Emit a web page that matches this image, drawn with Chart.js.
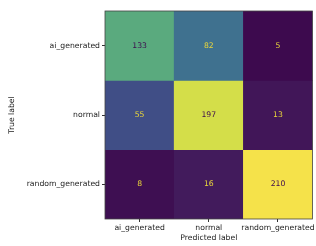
<!DOCTYPE html>
<html>
<head>
<meta charset="utf-8">
<script src="https://cdn.jsdelivr.net/npm/chart.js@4/dist/chart.umd.min.js"></script>
<style>
html,body{margin:0;padding:0;background:#fff;}
#wrap{width:316px;height:246px;}
</style>
</head>
<body>
<div id="wrap"><canvas id="c" width="316" height="246"></canvas></div>
<script>
const predictedLabels = ["ai_generated", "normal", "random_generated"];
const trueLabels = ["ai_generated", "normal", "random_generated"];
const rowAi = [133, 82, 5];
const rowNormal = [55, 197, 13];
const rowRandom = [8, 16, 210];
const matrix = [rowAi, rowNormal, rowRandom];

const all = matrix.flat();
const vmin = Math.min(...all), vmax = Math.max(...all);
const stops = [
  [0.00, [61, 10, 78]],
  [0.06, [67, 29, 94]],
  [0.24, [64, 77, 134]],
  [0.38, [63, 114, 143]],
  [0.62, [88, 169, 127]],
  [0.94, [213, 223, 72]],
  [1.00, [245, 226, 74]]
];
function cmap(v){
  const t = (v - vmin) / (vmax - vmin);
  for (let i = 1; i < stops.length; i++) {
    if (t <= stops[i][0]) {
      const a = stops[i-1], b = stops[i];
      const f = (t - a[0]) / (b[0] - a[0]);
      const c = a[1].map((x, k) => Math.round(x + (b[1][k] - x) * f));
      return `rgb(${c[0]},${c[1]},${c[2]})`;
    }
  }
  const c = stops[stops.length-1][1];
  return `rgb(${c[0]},${c[1]},${c[2]})`;
}
const thresh = (vmin + vmax) / 2;

const datasets = matrix.map((row, r) => ({
  label: trueLabels[r],
  counts: row,
  data: row.map(() => [r - 0.5, r + 0.5]),
  backgroundColor: row.map(cmap),
  borderWidth: 0,
  barPercentage: 1,
  categoryPercentage: 1,
  grouped: false
}));

const FONT = "'DejaVu Sans', sans-serif";
const FS = 7.7;

const cellText = {
  id: 'cellText',
  afterDatasetsDraw(chart) {
    const ctx = chart.ctx;
    ctx.save();
    ctx.font = `${FS}px ${FONT}`;
    ctx.textAlign = 'center';
    ctx.textBaseline = 'middle';
    chart.data.datasets.forEach((ds, di) => {
      chart.getDatasetMeta(di).data.forEach((bar, i) => {
        const v = ds.counts[i];
        ctx.fillStyle = v > thresh ? '#3d0a4e' : '#e8d53a';
        const p = bar.getProps(['x', 'y', 'base'], true);
        ctx.fillText(String(v), p.x, (p.y + p.base) / 2);
      });
    });
    ctx.restore();
  }
};
const frame = {
  id: 'frame',
  afterDatasetsDraw(chart) {
    const a = chart.chartArea, ctx = chart.ctx;
    ctx.save();
    ctx.strokeStyle = '#444';
    ctx.lineWidth = 0.8;
    ctx.strokeRect(a.left, a.top, a.right - a.left, a.bottom - a.top);
    ctx.restore();
  }
};

new Chart(document.getElementById('c'), {
  type: 'bar',
  data: { labels: predictedLabels, datasets },
  options: {
    responsive: false,
    animation: false,
    layout: { padding: { top: 11, right: 2, left: 0, bottom: 0 } },
    plugins: { legend: { display: false }, tooltip: { enabled: false } },
    scales: {
      x: {
        type: 'category',
        offset: true,
        grid: { display: true, drawOnChartArea: false, drawTicks: true, tickLength: 3, color: '#333', offset: false },
        border: { display: false },
        ticks: { color: '#222', font: { family: FONT, size: FS }, padding: 1, maxRotation: 0, autoSkip: false },
        title: { display: true, text: 'Predicted label', color: '#222', font: { family: FONT, size: FS }, padding: { top: 0, bottom: 3 } },
        afterFit(s) { s.height = 27; }
      },
      y: {
        type: 'linear',
        min: -0.5, max: 2.5,
        reverse: true,
        afterBuildTicks(s) { s.ticks = [0, 1, 2].map(v => ({ value: v })); },
        grid: { display: true, drawOnChartArea: false, drawTicks: true, tickLength: 3, color: '#333' },
        border: { display: false },
        ticks: { color: '#222', font: { family: FONT, size: FS }, padding: 2, callback: v => trueLabels[v] },
        title: { display: true, text: 'True label', color: '#222', font: { family: FONT, size: FS }, padding: { top: 7, bottom: 0 } },
        afterFit(s) { s.width = 105; }
      }
    }
  },
  plugins: [cellText, frame]
});
</script>
</body>
</html>
